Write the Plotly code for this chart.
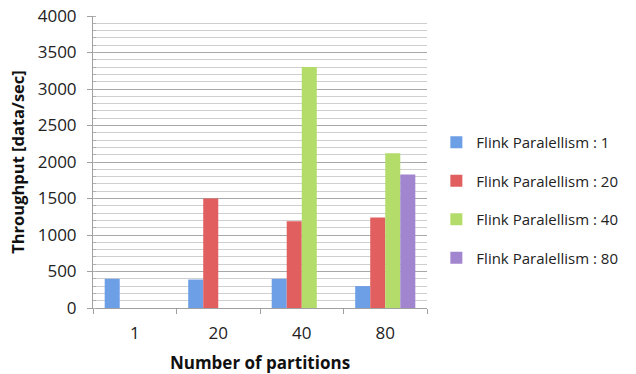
import plotly.graph_objects as go

categories = ["1", "20", "40", "80"]
series_names = ["Flink Paralellism : 1", "Flink Paralellism : 20",
                "Flink Paralellism : 40", "Flink Paralellism : 80"]
p1 = [400, 390, 400, 300]
p20 = [None, 1500, 1190, 1240]
p40 = [None, None, 3300, 2120]
p80 = [None, None, None, 1830]
series_values = [p1, p20, p40, p80]
colors = ["#6d9fe6", "#e25f5f", "#b3dc6a", "#a285cf"]
y_ticks = [0, 500, 1000, 1500, 2000, 2500, 3000, 3500, 4000]

fig = go.Figure()
for i, (name, vals, col) in enumerate(zip(series_names, series_values, colors)):
    fig.add_trace(go.Bar(
        x=categories, y=vals, name=name, legendgroup=str(i),
        marker=dict(color=col, line=dict(width=0)),
    ))

font = "Open Sans, Lato, sans-serif"
fig.update_layout(
    width=636, height=374,
    margin=dict(l=93, r=209, t=16, b=66),
    paper_bgcolor="white", plot_bgcolor="white",
    barmode="group", bargap=0.28, bargroupgap=0,
    font=dict(family=font, size=16, color="#222"),
    showlegend=True,
    legend=dict(x=1.028, xanchor="left", y=0.37, yanchor="middle",
                font=dict(size=15, color="#222"), tracegroupgap=16,
                itemwidth=30, bgcolor="rgba(0,0,0,0)"),
    xaxis=dict(
        type="category", showline=True, linecolor="#a0a0a0", linewidth=1,
        ticks="outside", tickson="boundaries", ticklen=5, tickcolor="#a0a0a0",
        showgrid=False, automargin=False, ticklabelstandoff=10,
        title=dict(text="<b>Number of partitions</b>", font=dict(size=17, color="#111"), standoff=14),
        tickfont=dict(size=17, color="#222"),
    ),
    yaxis=dict(
        range=[0, 4000], tickvals=y_ticks, showline=True, linecolor="#a0a0a0",
        linewidth=1, ticks="outside", ticklen=5, tickcolor="#a0a0a0",
        showgrid=True, gridcolor="#a8a8a8", gridwidth=1, zeroline=False,
        automargin=False, ticklabelstandoff=7,
        minor=dict(dtick=100, showgrid=True, gridcolor="#cfcfcf", gridwidth=1,
                   ticks="inside", ticklen=3, tickcolor="#b0b0b0"),
        title=dict(text="<b>Throughput [data/sec]</b>", font=dict(size=16.5, color="#111"), standoff=8),
        tickfont=dict(size=17, color="#222"),
    ),
)

# remove the browser's default 8px body margin so the figure sits at the page origin
fig.write_html("out.html", config={"displayModeBar": False},
               post_script="document.body.style.margin='0';")
